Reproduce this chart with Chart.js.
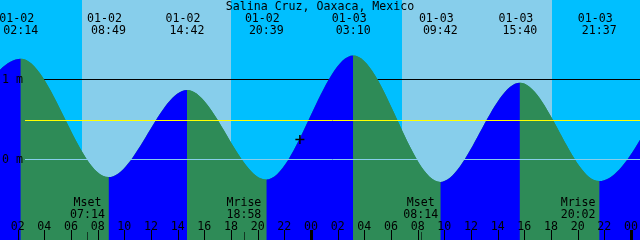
<!DOCTYPE html>
<html>
<head>
<meta charset="utf-8">
<script src="https://cdn.jsdelivr.net/npm/chart.js@4/dist/chart.umd.min.js"></script>
<style>
  html, body { margin: 0; padding: 0; background: #00bfff; }
  #wrap { width: 640px; height: 240px; }
</style>
</head>
<body>
<div id="wrap"><canvas id="tideChart" width="640" height="240"></canvas></div>
<script>
// tide extremes (first and last lie just outside the window)
const tideDates   = ['01-01', '01-02', '01-02', '01-02', '01-02', '01-03', '01-03', '01-03', '01-03', '01-04'];
const tideTimes   = ['19:30', '02:14', '08:49', '14:42', '20:39', '03:10', '09:42', '15:40', '21:37', '04:06'];
const tideHeights = [-0.20, 1.26, -0.22, 0.87, -0.25, 1.30, -0.28, 0.96, -0.27, 1.25];

// sun: day bands
const sunriseDates = ['01-02', '01-03'];
const sunriseTimes = ['06:50', '06:50'];
const sunsetDates  = ['01-02', '01-03'];
const sunsetTimes  = ['18:00', '18:05'];

// moon events
const moonEvents = ['Mset', 'Mrise', 'Mset', 'Mrise'];
const moonDates  = ['01-02', '01-02', '01-03', '01-03'];
const moonTimes  = ['07:14', '18:58', '08:14', '20:02'];

// current time mark
const nowDate = '01-02';
const nowTime = '23:10';
const nowHeight = 0.25;

// axes
const hourTicks = [2, 4, 6, 8, 10, 12, 14, 16, 18, 20, 22, 24, 26, 28, 30, 32, 34, 36, 38, 40, 42, 44, 46, 48];
const depthTicks = [0, 1];
const depthLabels = ['0 m', '1 m'];
const meanSeaLevel = 0.49;
const title = 'Salina Cruz, Oaxaca, Mexico';

const SKY_DAY = '#87ceeb';
const SKY_NIGHT = '#00bfff';
const RISE = '#0000ff';
const FALL = '#2e8b57';
const FONT = '11.6px "DejaVu Sans Mono", "Liberation Mono", monospace';

// hours since 01-02 00:00
function toHours(date, time) {
  const day = Number(date.split('-')[1]);
  const [h, m] = time.split(':').map(Number);
  return (day - 2) * 24 + h + m / 60;
}

const tidePoints = tideTimes.map((t, i) => ({ x: toHours(tideDates[i], t), y: tideHeights[i] }));

const backdrop = {
  id: 'backdrop',
  beforeDatasetsDraw(chart) {
    const { ctx, chartArea: a, scales: { x, y } } = chart;
    ctx.save();
    ctx.fillStyle = SKY_NIGHT;
    ctx.fillRect(a.left, a.top, a.width, a.height);
    ctx.fillStyle = SKY_DAY;
    sunriseTimes.forEach((t, i) => {
      const x0 = Math.round(x.getPixelForValue(toHours(sunriseDates[i], t)));
      const x1 = Math.round(x.getPixelForValue(toHours(sunsetDates[i], sunsetTimes[i])));
      ctx.fillRect(x0, a.top, x1 - x0, a.height);
    });
    // 1 m line sits behind the water
    ctx.strokeStyle = '#000';
    ctx.lineWidth = 1;
    const py = Math.floor(y.getPixelForValue(1)) + 0.5;
    ctx.beginPath();
    ctx.moveTo(25, py);
    ctx.lineTo(a.right, py);
    ctx.stroke();
    ctx.restore();
  },
  afterDatasetsDraw(chart) {
    const { ctx, chartArea: a, scales: { x, y } } = chart;
    ctx.save();
    ctx.lineWidth = 1;

    // mean sea level and datum lines over the water
    let py = Math.floor(y.getPixelForValue(meanSeaLevel)) + 0.5;
    ctx.strokeStyle = '#ffff00';
    ctx.beginPath(); ctx.moveTo(25, py); ctx.lineTo(a.right, py); ctx.stroke();
    py = Math.floor(y.getPixelForValue(0)) + 0.5;
    ctx.strokeStyle = SKY_DAY;
    ctx.beginPath(); ctx.moveTo(25, py); ctx.lineTo(a.right, py); ctx.stroke();

    ctx.fillStyle = '#000';
    ctx.font = FONT;

    // depth labels
    ctx.textAlign = 'left';
    ctx.textBaseline = 'middle';
    depthTicks.forEach((d, i) => ctx.fillText(depthLabels[i], 2, y.getPixelForValue(d) + 0.5));

    ctx.textBaseline = 'alphabetic';
    ctx.textAlign = 'center';
    ctx.fillText(title, 320, 10);

    // high / low labels
    tideTimes.forEach((t, i) => {
      const px = x.getPixelForValue(toHours(tideDates[i], t));
      if (px < a.left - 20 || px > a.right + 20) return;
      ctx.fillText(tideDates[i], px - 4, 22);
      ctx.fillText(t, px, 33.5);
    });

    // moon labels and marks
    moonTimes.forEach((t, i) => {
      const px = x.getPixelForValue(toHours(moonDates[i], t));
      ctx.fillText(moonEvents[i], px, 206);
      ctx.fillText(t, px, 217.5);
      ctx.fillStyle = 'rgba(0,0,0,0.6)';
      ctx.fillRect(Math.round(px), 232, 1, 8);
      ctx.fillStyle = '#000';
    });

    // hour axis
    hourTicks.forEach(h => {
      const px = x.getPixelForValue(h);
      const label = String(h % 24).padStart(2, '0');
      ctx.fillText(label, px, 229.5);
      if (h % 24 === 0) ctx.fillRect(Math.round(px) - 1, 230, 3, 10);
      else ctx.fillRect(Math.round(px), 230, 1, 10);
    });
    ctx.restore();
  }
};

const tideShape = {
  data: tidePoints,
  fill: 'start',
  borderWidth: 0,
  borderColor: 'rgba(0,0,0,0)',
  pointRadius: 0,
  cubicInterpolationMode: 'monotone',
  capBezierPoints: false
};

new Chart(document.getElementById('tideChart'), {
  type: 'line',
  data: {
    datasets: [{
      label: 'now',
      data: [{ x: toHours(nowDate, nowTime), y: nowHeight }],
      showLine: false,
      pointStyle: 'cross',
      pointRadius: 4.5,
      pointBorderWidth: 1.5,
      pointBorderColor: '#000',
      borderColor: '#000'
    }, {
      ...tideShape,
      label: 'tide',
      backgroundColor: RISE,
      segment: {
        backgroundColor: c => (c.p1.parsed.y >= c.p0.parsed.y ? RISE : FALL)
      }
    }, {
      // solid backing so segment seams don't show the sky
      ...tideShape,
      label: 'tide backing',
      backgroundColor: FALL
    }]
  },
  options: {
    responsive: false,
    animation: false,
    events: [],
    layout: { padding: 0, autoPadding: false },
    plugins: { legend: { display: false }, tooltip: { enabled: false } },
    scales: {
      x: { type: 'linear', min: 0.675, max: 48.675, display: false },
      y: { min: -1.00625, max: 1.99375, display: false }
    }
  },
  plugins: [backdrop]
});
</script>
</body>
</html>
